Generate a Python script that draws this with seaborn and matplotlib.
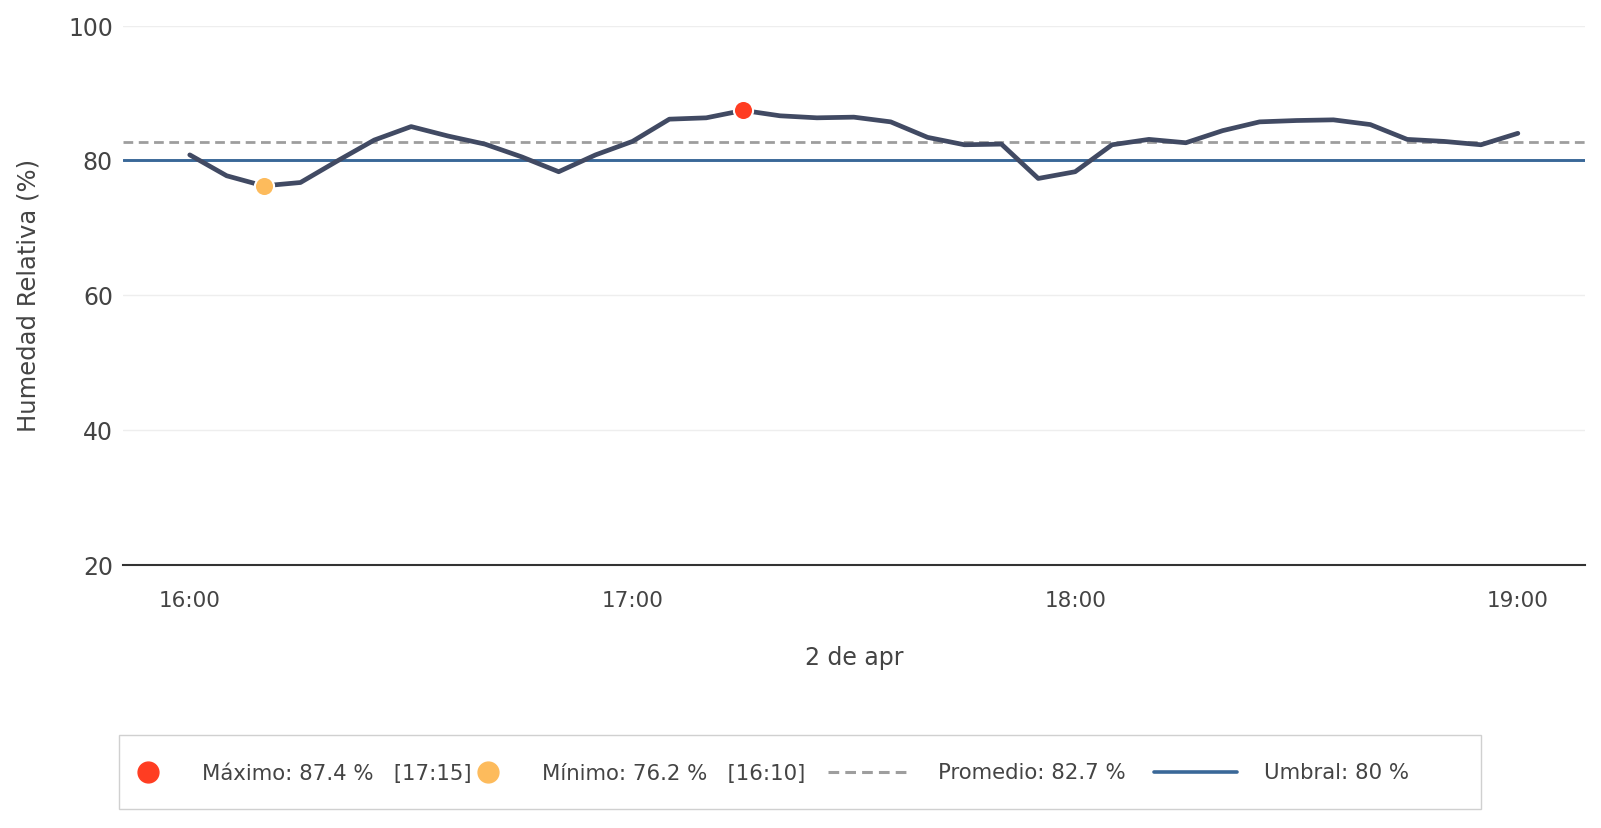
import pandas as pd
import matplotlib.pyplot as plt
import matplotlib.dates as mdates
from matplotlib.lines import Line2D
from matplotlib.patches import Rectangle
import seaborn as sns

# Lecturas cada 5 minutos, 2 de abril
horas = ["16:00", "16:05", "16:10", "16:15", "16:20", "16:25", "16:30", "16:35",
         "16:40", "16:45", "16:50", "16:55", "17:00", "17:05", "17:10", "17:15",
         "17:20", "17:25", "17:30", "17:35", "17:40", "17:45", "17:50", "17:55",
         "18:00", "18:05", "18:10", "18:15", "18:20", "18:25", "18:30", "18:35",
         "18:40", "18:45", "18:50", "18:55", "19:00"]
humedad = [80.8, 77.7, 76.2, 76.7, 79.9, 83.0, 85.0, 83.6,
           82.4, 80.5, 78.3, 80.8, 82.8, 86.1, 86.3, 87.4,
           86.6, 86.3, 86.4, 85.7, 83.4, 82.3, 82.4, 77.3,
           78.3, 82.3, 83.1, 82.6, 84.4, 85.7, 85.9, 86.0,
           85.3, 83.1, 82.8, 82.3, 84.0]
promedio = 82.7
umbral = 80
fecha = "2024-04-02"

df = pd.DataFrame({"hora": pd.to_datetime([fecha + " " + h for h in horas]),
                   "humedad": humedad})
i_max = df["humedad"].idxmax()
i_min = df["humedad"].idxmin()

c_linea = "#414a63"
c_max = "#ff3d22"
c_min = "#fdbb5c"
c_prom = "#9e9e9e"
c_umbral = "#3a6898"
c_texto = "#444444"
guiones = (0, (3.5, 2))

sns.set_style("white")
plt.rcParams["font.family"] = ["DejaVu Sans"]

fig = plt.figure(figsize=(16.01, 8.285), dpi=100)
ax = fig.add_axes([0.0766, 0.318, 0.9134, 0.6506])

ax.axhline(umbral, color=c_umbral, linewidth=2.1, zorder=2)
ax.axhline(promedio, color=c_prom, linewidth=2.0, linestyle=guiones, zorder=2)
sns.lineplot(data=df, x="hora", y="humedad", color=c_linea, linewidth=3.4, ax=ax, zorder=3)
sns.scatterplot(data=df.loc[[i_max]], x="hora", y="humedad", color=c_max, s=190,
                edgecolor="white", linewidth=1.5, ax=ax, zorder=4)
sns.scatterplot(data=df.loc[[i_min]], x="hora", y="humedad", color=c_min, s=190,
                edgecolor="white", linewidth=1.5, ax=ax, zorder=4)

ax.set_ylim(20, 100)
ax.set_yticks([20, 40, 60, 80, 100])
ax.set_xlim(df["hora"].iloc[0] - pd.Timedelta(minutes=9.1),
            df["hora"].iloc[-1] + pd.Timedelta(minutes=9.1))
ax.xaxis.set_major_locator(mdates.HourLocator())
ax.xaxis.set_major_formatter(mdates.DateFormatter("%H:%M"))

ax.grid(axis="y", color="#eeeeee", linewidth=1)
ax.grid(axis="x", visible=False)
for s in ["left", "right", "top"]:
    ax.spines[s].set_visible(False)
ax.spines["bottom"].set_color("#333333")
ax.spines["bottom"].set_linewidth(1.5)

ax.tick_params(axis="y", length=0, pad=7, labelsize=17, labelcolor=c_texto)
ax.tick_params(axis="x", length=6, width=1.5, color="#333333", pad=13,
               labelsize=15.5, labelcolor=c_texto)

ax.set_xlabel("2 de apr", fontsize=17, color=c_texto, labelpad=25)
ax.set_ylabel("Humedad Relativa (%)", fontsize=17.5, color=c_texto, labelpad=20)

# Leyenda: dos grupos (puntos y lineas) dentro de un mismo marco
t_max = df.loc[i_max, "hora"].strftime("%H:%M")
t_min = df.loc[i_min, "hora"].strftime("%H:%M")
h_max = Line2D([], [], linestyle="none", marker="o", markersize=15, color=c_max)
h_min = Line2D([], [], linestyle="none", marker="o", markersize=15, color=c_min)
h_prom = Line2D([], [], color=c_prom, linewidth=2.2, linestyle=guiones)
h_umbral = Line2D([], [], color=c_umbral, linewidth=2.6)

fila_y = 0.0664
fig.legend([h_max, h_min],
           [f"Máximo: {df.loc[i_max, 'humedad']:.1f} %   [{t_max}]",
            f"Mínimo: {df.loc[i_min, 'humedad']:.1f} %   [{t_min}]"],
           loc="center left", bbox_to_anchor=(0.0858, fila_y), borderaxespad=0,
           borderpad=0, ncol=2, fontsize=15.3, frameon=False, handlelength=1.0,
           handletextpad=2.04, columnspacing=0.25, labelcolor=c_texto)
fig.legend([h_prom, h_umbral],
           [f"Promedio: {promedio} %", f"Umbral: {umbral} %"],
           loc="center left", bbox_to_anchor=(0.5172, fila_y), borderaxespad=0,
           borderpad=0, ncol=2, fontsize=15.3, frameon=False, handlelength=3.9,
           handletextpad=1.27, columnspacing=1.36, labelcolor=c_texto)
fig.add_artist(Rectangle((0.0746, 0.0226), 0.8502, 0.0901, transform=fig.transFigure,
                         fill=False, edgecolor="#d0d0d0", linewidth=1.0))

plt.savefig("out.png", dpi=100)
plt.close()
